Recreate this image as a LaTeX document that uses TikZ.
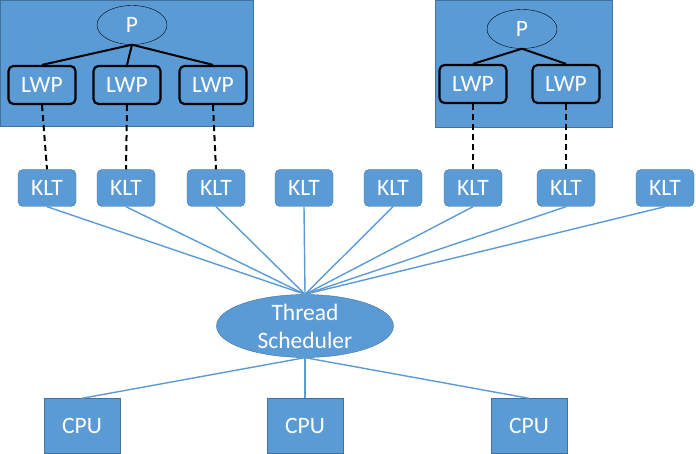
\documentclass[tikz,border=0pt]{standalone}
\usepackage{fontspec}
\setmainfont{Carlito}
\usetikzlibrary{shapes.geometric}
\begin{document}
\begin{tikzpicture}[x=1pt, y=-1pt, font=\fontsize{23.5}{28}\selectfont,
		box/.style={draw=boxborder, fill=boxfill, text=white, inner sep=0pt},
		klt/.style={box, rounded corners=5pt, minimum width=58pt, minimum height=37pt},
		lwp/.style={draw=black, line width=2.2pt, fill=boxfill, text=white, rounded corners=5pt, inner sep=0pt, minimum width=67pt, minimum height=38pt},
		proc/.style={ellipse, draw=black, thin, fill=boxfill, text=white, inner sep=0pt, minimum width=70pt, minimum height=39pt},
		cpu/.style={box, minimum width=76pt, minimum height=55pt},
		link/.style={draw=boxfill, line width=1.4pt},
		tree/.style={draw=black, line width=2pt},
		map/.style={draw=black, line width=2pt, dash pattern=on 6pt off 4pt}]
		% Define colors
		\definecolor{boxfill}{RGB}{91,155,213}
		\definecolor{boxborder}{RGB}{65,113,156}
		\useasboundingbox (0,0) rectangle (696,454);
		% Process boxes
		\fill[boxfill, draw=boxborder] (0.5,0.5) rectangle (253,126);
		\fill[boxfill, draw=boxborder] (435,0.5) rectangle (612,127);
		% Left process
		\node[proc] (p1) at (132,25) {P};
		\node[lwp] (lwp1) at (42,85) {LWP};
		\node[lwp] (lwp2) at (127,85) {LWP};
		\node[lwp] (lwp3) at (213,85) {LWP};
		% Right process
		\node[proc] (p2) at (522,29) {P};
		\node[lwp] (lwp4) at (473,84) {LWP};
		\node[lwp] (lwp5) at (566,84) {LWP};
		% Tree lines
		\foreach \l in {lwp1,lwp2,lwp3} \draw[tree] (p1.south) -- (\l.north);
		\foreach \l in {lwp4,lwp5} \draw[tree] (p2.south) -- (\l.north);
		% Kernel level threads
		\foreach \x [count=\i] in {47,126,216,304,393,473,566,665}
			\node[klt] (klt\i) at (\x,188) {KLT};
		% LWP to KLT
		\draw[map] (lwp1.south) -- (klt1.north);
		\draw[map] (lwp2.south) -- (klt2.north);
		\draw[map] (lwp3.south) -- (klt3.north);
		\draw[map] (lwp4.south) -- (klt6.north);
		\draw[map] (lwp5.south) -- (klt7.north);
		% Scheduler
		\node[box, ellipse, minimum width=177pt, minimum height=55pt, align=center] (sched) at (305,326) {Thread\\Scheduler};
		\foreach \i in {1,...,8} \draw[link] (klt\i.south) -- (sched.north);
		% CPUs
		\node[cpu] (cpu1) at (82,426) {CPU};
		\node[cpu] (cpu2) at (305,426) {CPU};
		\node[cpu] (cpu3) at (529,426) {CPU};
		\foreach \c in {cpu1,cpu2,cpu3} \draw[link] (sched.south) -- (\c.north);
	\end{tikzpicture}
\end{document}
